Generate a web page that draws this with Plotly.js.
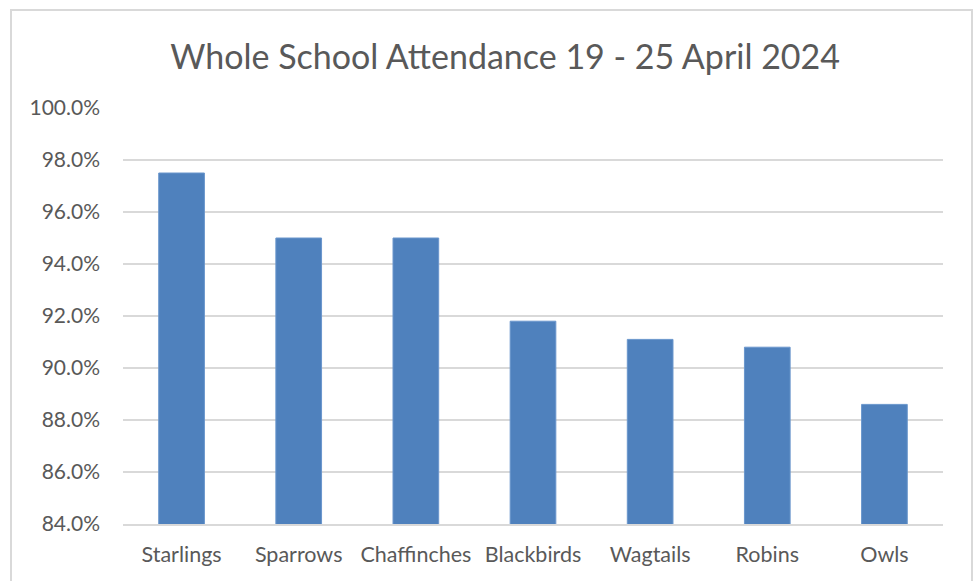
<!DOCTYPE html>
<html>
<head>
<meta charset="utf-8">
<script src="https://cdn.plot.ly/plotly-3.0.1.min.js"></script>
<style>
html,body{margin:0;padding:0;background:#fff;}
#chart{width:977px;height:581px;position:relative;}
#frame{position:absolute;left:10px;top:9px;width:959px;height:590px;border:2px solid #d9d9d9;pointer-events:none;}
</style>
</head>
<body>
<div style="position:relative;width:977px;height:581px;overflow:hidden;">
<div id="chart"></div>
<div id="frame"></div>
</div>
<script>
const categories = ["Starlings","Sparrows","Chaffinches","Blackbirds","Wagtails","Robins","Owls"];
const attendance = [0.975, 0.950, 0.950, 0.918, 0.911, 0.908, 0.886];
const yTicks = [0.84,0.86,0.88,0.90,0.92,0.94,0.96,0.98,1.00];
const titleText = "Whole School Attendance 19 - 25 April 2024";

const trace = {
  type: "bar",
  x: categories,
  y: attendance,
  marker: {color: "#4f81bd", line: {color: "#6a96cc", width: 1}},
  hoverinfo: "x+y"
};

const layout = {
  width: 977, height: 581,
  margin: {l: 123, r: 34, t: 108, b: 57, pad: 0},
  paper_bgcolor: "#fff", plot_bgcolor: "#fff",
  font: {family: "Lato, 'Open Sans', sans-serif", color: "#595959", size: 21},
  title: {text: titleText, font: {size: 34, color: "#595959", family: "Lato, 'Open Sans', sans-serif"},
          x: 0.517, xanchor: "center", y: 1 - 57/581, yanchor: "middle", xref: "container", yref: "container"},
  bargap: 0.61,
  showlegend: false,
  xaxis: {type: "category", showgrid: false, showline: true, linecolor: "#d9d9d9", linewidth: 2,
          ticks: "", ticklabelstandoff: 10, tickfont: {size: 21.5, color: "#595959"}, fixedrange: true},
  yaxis: {range: [0.84, 1.0], tickvals: yTicks, tickformat: ".1%", showgrid: true, gridcolor: "#d9d9d9", gridwidth: 2,
          zeroline: false, showline: false, ticks: "", ticklabelstandoff: 22, tickfont: {size: 21, color: "#595959"}, fixedrange: true}
};

Plotly.newPlot("chart", [trace], layout, {displayModeBar: false, staticPlot: true});
</script>
</body>
</html>
